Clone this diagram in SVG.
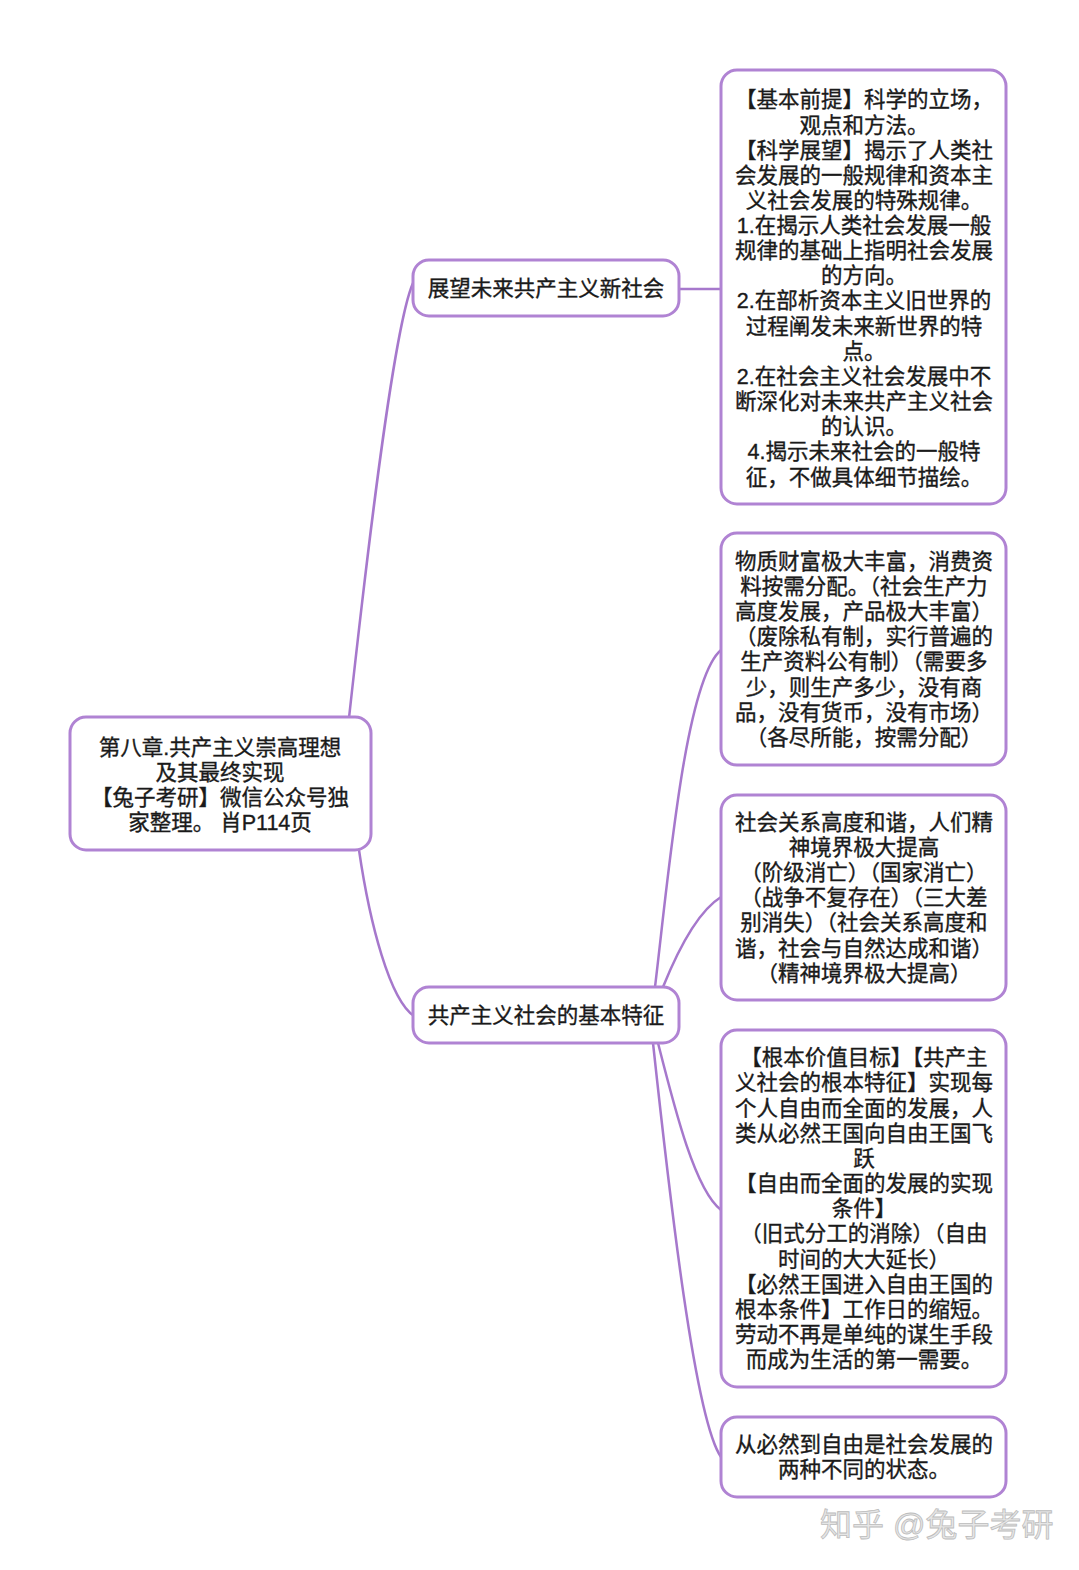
<svg xmlns="http://www.w3.org/2000/svg" width="1079" height="1570" viewBox="0 0 1079 1570">
<style>
.box{fill:#ffffff;stroke:#b083d3;stroke-width:3}
.t{font-family:"Liberation Sans","Noto Sans CJK SC",sans-serif;font-size:21.5px;fill:#1a1a1a;stroke:#1a1a1a;stroke-width:0.35;text-anchor:middle}
.c{fill:none;stroke:#a678cc;stroke-width:2.5}
.wm{font-family:"Liberation Sans","Noto Sans CJK SC",sans-serif;font-size:32px;fill:#e6e6e6;stroke:#bcbcbc;stroke-width:0.8}
</style>
<rect width="1079" height="1570" fill="#ffffff"/>
<g id="connectors">
<path class="c" d="M349,718 C362,600 392,330 413,283"/>
<path class="c" d="M359,850 C370,925 390,1000 414,1016"/>
<path class="c" d="M679,289 L721,289"/>
<path class="c" d="M655,987 C668,880 685,680 721,650"/>
<path class="c" d="M663,987 C680,945 700,910 721,897"/>
<path class="c" d="M658,1043 C675,1110 695,1190 721,1210"/>
<path class="c" d="M653,1043 C670,1200 695,1420 721,1457"/>
</g>
<g id="root">
<rect class="box" x="70" y="717" width="301" height="133" rx="16"/>
<text class="t" x="220" y="755">第八章.共产主义崇高理想</text>
<text class="t" x="220" y="780">及其最终实现</text>
<text class="t" x="220" y="805">【兔子考研】微信公众号独</text>
<text class="t" x="220" y="830">家整理。 肖P114页</text>
</g>
<g id="node-outlook">
<rect class="box" x="413" y="260" width="266" height="56" rx="16"/>
<text class="t" x="546" y="296">展望未来共产主义新社会</text>
</g>
<g id="node-features">
<rect class="box" x="413" y="987" width="266" height="56" rx="16"/>
<text class="t" x="546" y="1023">共产主义社会的基本特征</text>
</g>
<g id="box1">
<rect class="box" x="721" y="70" width="285" height="434" rx="16"/>
<text class="t" x="864" y="107">【基本前提】科学的立场，</text>
<text class="t" x="864" y="133">观点和方法。</text>
<text class="t" x="864" y="158">【科学展望】揭示了人类社</text>
<text class="t" x="864" y="183">会发展的一般规律和资本主</text>
<text class="t" x="864" y="208">义社会发展的特殊规律。</text>
<text class="t" x="864" y="233">1.在揭示人类社会发展一般</text>
<text class="t" x="864" y="258">规律的基础上指明社会发展</text>
<text class="t" x="864" y="283">的方向。</text>
<text class="t" x="864" y="308">2.在部析资本主义旧世界的</text>
<text class="t" x="864" y="334">过程阐发未来新世界的特</text>
<text class="t" x="864" y="359">点。</text>
<text class="t" x="864" y="384">2.在社会主义社会发展中不</text>
<text class="t" x="864" y="409">断深化对未来共产主义社会</text>
<text class="t" x="864" y="434">的认识。</text>
<text class="t" x="864" y="459">4.揭示未来社会的一般特</text>
<text class="t" x="864" y="485">征，不做具体细节描绘。</text>
</g>
<g id="box2">
<rect class="box" x="721" y="533" width="285" height="232" rx="16"/>
<text class="t" x="864" y="569">物质财富极大丰富，消费资</text>
<text class="t" x="864" y="594">料按需分配。（社会生产力</text>
<text class="t" x="864" y="619">高度发展，产品极大丰富）</text>
<text class="t" x="864" y="644">（废除私有制，实行普遍的</text>
<text class="t" x="864" y="669">生产资料公有制）（需要多</text>
<text class="t" x="864" y="695">少，则生产多少，没有商</text>
<text class="t" x="864" y="720">品，没有货币，没有市场）</text>
<text class="t" x="864" y="745">（各尽所能，按需分配）</text>
</g>
<g id="box3">
<rect class="box" x="721" y="795" width="285" height="205" rx="16"/>
<text class="t" x="864" y="830">社会关系高度和谐，人们精</text>
<text class="t" x="864" y="855">神境界极大提高</text>
<text class="t" x="864" y="880">（阶级消亡）（国家消亡）</text>
<text class="t" x="864" y="905">（战争不复存在）（三大差</text>
<text class="t" x="864" y="930">别消失）（社会关系高度和</text>
<text class="t" x="864" y="956">谐，社会与自然达成和谐）</text>
<text class="t" x="864" y="981">（精神境界极大提高）</text>
</g>
<g id="box4">
<rect class="box" x="721" y="1030" width="285" height="357" rx="16"/>
<text class="t" x="864" y="1065">【根本价值目标】【共产主</text>
<text class="t" x="864" y="1090">义社会的根本特征】实现每</text>
<text class="t" x="864" y="1116">个人自由而全面的发展，人</text>
<text class="t" x="864" y="1141">类从必然王国向自由王国飞</text>
<text class="t" x="864" y="1166">跃</text>
<text class="t" x="864" y="1191">【自由而全面的发展的实现</text>
<text class="t" x="864" y="1216">条件】</text>
<text class="t" x="864" y="1241">（旧式分工的消除）（自由</text>
<text class="t" x="864" y="1267">时间的大大延长）</text>
<text class="t" x="864" y="1292">【必然王国进入自由王国的</text>
<text class="t" x="864" y="1317">根本条件】工作日的缩短。</text>
<text class="t" x="864" y="1342">劳动不再是单纯的谋生手段</text>
<text class="t" x="864" y="1367">而成为生活的第一需要。</text>
</g>
<g id="box5">
<rect class="box" x="721" y="1417" width="285" height="80" rx="16"/>
<text class="t" x="864" y="1452">从必然到自由是社会发展的</text>
<text class="t" x="864" y="1477">两种不同的状态。</text>
</g>
<text class="wm" x="820" y="1536">知乎 @兔子考研</text>
</svg>
